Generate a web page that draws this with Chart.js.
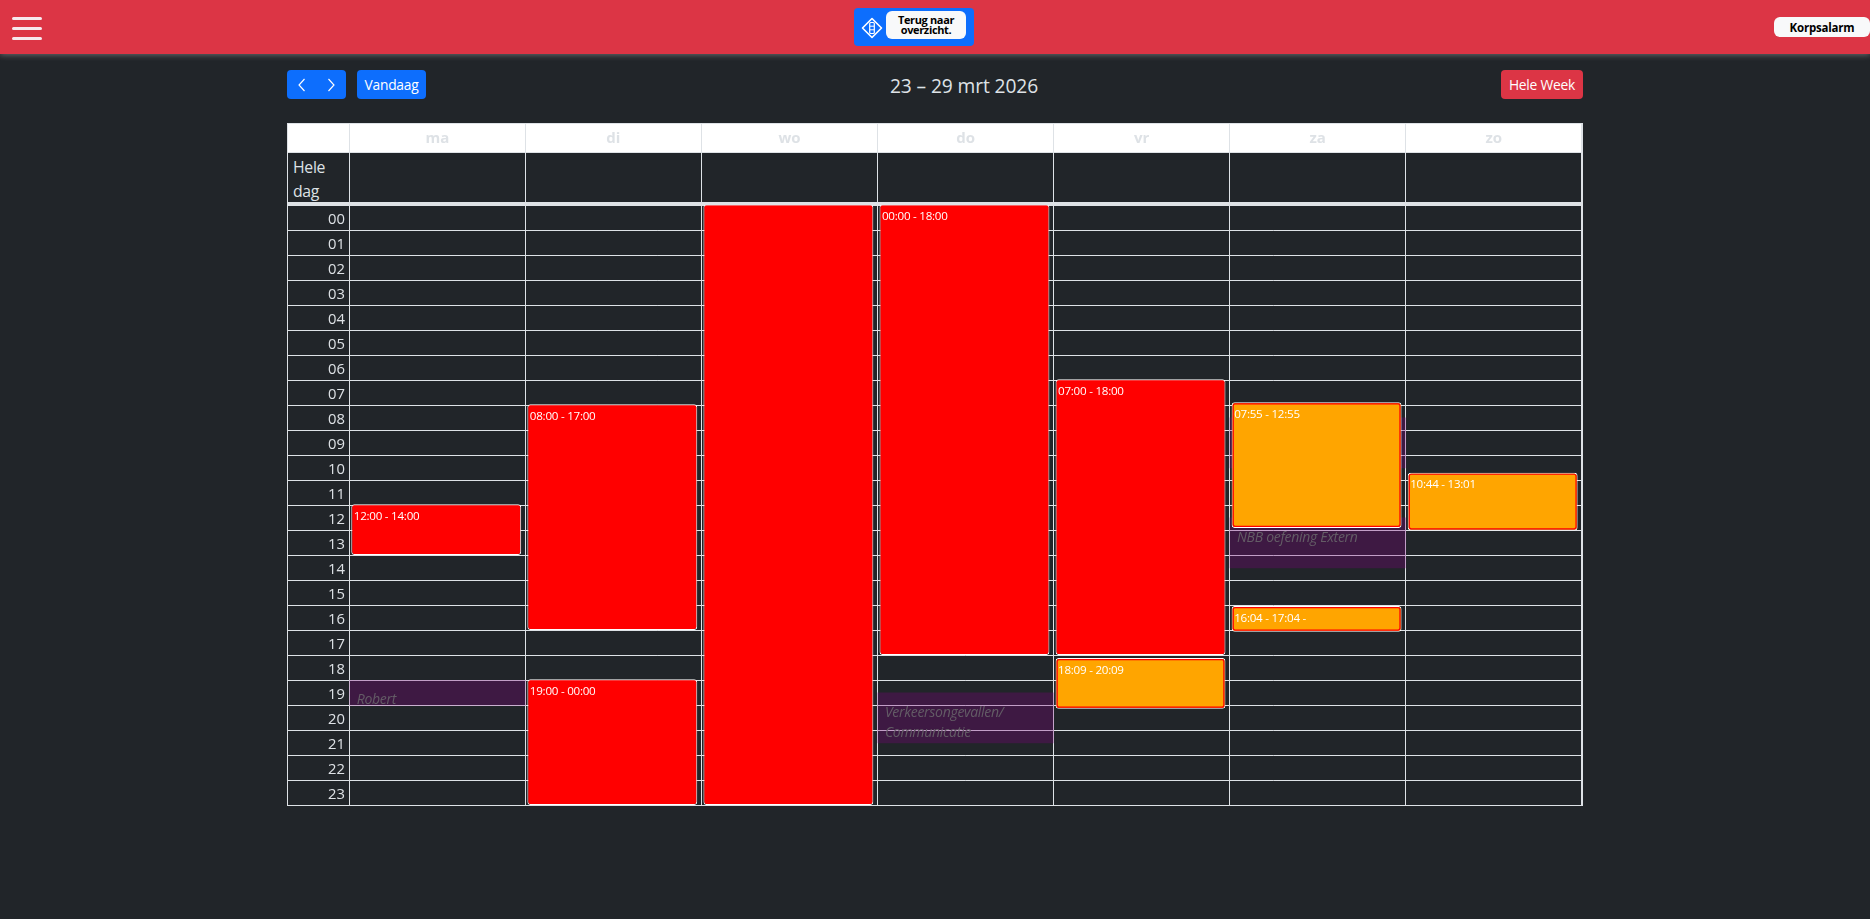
<!DOCTYPE html>
<html lang="nl"><head><meta charset="utf-8"><title>Rooster</title>
<script src="https://cdn.jsdelivr.net/npm/chart.js@4"></script>
<style>
html,body{margin:0;padding:0;width:1870px;height:919px;background:#212529;overflow:hidden;font-family:"Open Sans","Noto Sans",sans-serif;color:#dee2e6}
.abs{position:absolute;box-sizing:border-box}
#bar{left:0;top:0;width:1870px;height:54px;background:#dc3545;box-shadow:0 1px 6px rgba(255,255,255,.32)}
.burger{left:12px;width:30px;height:3px;border-radius:2px;background:#f6e9ee}
.btn{display:flex;align-items:center;justify-content:center;border-radius:4px;color:#fff;font-size:13.8px;letter-spacing:-.22px;top:70px;height:29px}
.blue{background:#0d6efd}.red{background:#dc3545}
.pill{background:#f8f9fa;color:#000;font-weight:700;display:flex;align-items:center;justify-content:center;text-align:center}
#frame{left:287px;top:123px;width:1296px;height:683px;border:1px solid #dee2e6}
#head{left:288px;top:124px;width:1294px;height:29px;background:#fff;border-bottom:1px solid #dee2e6}
#thick{left:288px;top:202px;width:1294px;height:4px;background:#dee2e6}
#allday{left:293px;top:155px;font-size:15.8px;line-height:24px;letter-spacing:-.3px}
#title{left:800px;width:328px;top:72px;text-align:center;font-size:19.2px;line-height:28px;letter-spacing:-.1px}
canvas{position:absolute;left:0;top:0}
</style></head><body>
<div class="abs" id="bar"></div>
<div class="abs burger" style="top:17px"></div><div class="abs burger" style="top:27px"></div><div class="abs burger" style="top:37px"></div>
<div class="abs blue" style="left:854px;top:8px;width:120px;height:38px;border-radius:4px"></div>
<svg class="abs" style="left:861px;top:17px" width="22" height="22" viewBox="0 0 22 22" fill="none" stroke="#fff" stroke-width="1.6"><path d="M11 1.5 20.5 11 11 20.5 1.5 11Z" stroke-linejoin="round"/><rect x="8.7" y="5.5" width="4.6" height="11" rx="1" stroke-width="1.2"/><path d="M8.7 9.2H13.3M8.7 12.8H13.3" stroke-width="1"/></svg>
<div class="abs pill" style="left:886px;top:11px;width:80px;height:28px;border-radius:6px;font-size:11px;line-height:10px;letter-spacing:-.35px">Terug naar<br>overzicht.</div>
<div class="abs pill" style="left:1774px;top:17px;width:96px;height:20px;border-radius:6px;font-size:11.5px;letter-spacing:-.2px">Korpsalarm</div>
<div class="abs btn blue" style="left:287px;width:59px">
<svg width="59" height="29" viewBox="0 0 59 29" fill="none" stroke="#fff" stroke-width="1.15"><path d="M17.5 9 12 15 17.5 21"/><path d="M41.5 9 47 15 41.5 21"/></svg></div>
<div class="abs btn blue" style="left:357px;width:69px">Vandaag</div>
<div class="abs btn red" style="left:1501px;width:82px">Hele Week</div>
<div class="abs" id="title">23 – 29 mrt 2026</div>
<div class="abs" id="frame"></div><div class="abs" id="head"></div><div class="abs" id="thick"></div>
<div class="abs" id="allday">Hele<br>dag</div>
<canvas id="c" width="1870" height="919"></canvas>
<script>
// Calendar axes
const days = ['ma','di','wo','do','vr','za','zo'];
const hourLabels = ['00','01','02','03','04','05','06','07','08','09','10','11','12','13','14','15','16','17','18','19','20','21','22','23'];

// Red shifts (hours)
const redDays   = ['ma','di','di','wo','do','vr'];
const redStart  = [12, 8, 19, 0, 0, 7];
const redEnd    = [14, 17, 24, 24, 18, 18];
const redLabels = ['12:00 - 14:00','08:00 - 17:00','19:00 - 00:00','','00:00 - 18:00','07:00 - 18:00'];

// Orange shifts (hours)
const orangeDays   = ['vr','za','za','zo'];
const orangeStart  = [18.15, 7.917, 16.067, 10.733];
const orangeEnd    = [20.15, 12.917, 17.067, 13.017];
const orangeLabels = ['18:09 - 20:09','07:55 - 12:55','16:04 - 17:04 -','10:44 - 13:01'];

// Purple background events (hours)
const bgDays   = ['ma','do','za','za'];
const bgStart  = [19, 19.5, 8.5, 12.5];
const bgEnd    = [20, 21.5, 10.5, 14.5];
const bgLabels = [['Robert'],['Verkeersongevallen/','Communicatie'],[''],['NBB oefening Extern']];

const LINE = '#dee2e6';
const FONT = '"Open Sans","Noto Sans",sans-serif';
const toPoints = (d,s,e) => d.map((x,i)=>({x, y:[s[i],e[i]]}));
const hideLast = ctx => ctx.index === days.length ? 'transparent' : LINE;

const calendarPlugin = {
  id:'calendarPlugin',
  afterDatasetsUpdate(chart){
    chart.data.datasets.forEach((ds,i)=>{
      if(!ds.eventBar) return;
      chart.getDatasetMeta(i).data.forEach(el=>{ el.x -= 1.1; el.y -= 0.3; el.base -= 1; });
    });
  },
  afterDatasetDraw(chart,args){
    const ds = chart.data.datasets[args.index], ctx = chart.ctx;
    const els = args.meta.data;
    ctx.save();
    const topOf = el => Math.min(el.y, el.base), botOf = el => Math.max(el.y, el.base);
    if(ds.innerBorder){
      ctx.strokeStyle = ds.innerBorder; ctx.lineWidth = 1.2;
      els.forEach(el=>{
        const l = el.x-el.width/2+1.6, t = topOf(el)+1.6, w = el.width-3.2, h = botOf(el)-topOf(el)-3.2;
        ctx.beginPath(); ctx.roundRect(l,t,w,h,2); ctx.stroke();
      });
    }
    if(ds.eventBar){
      ctx.fillStyle = '#fff'; ctx.font = '11.6px '+FONT; ctx.textBaseline='middle'; ctx.textAlign='left';
      ctx.letterSpacing = '-0.25px';
      els.forEach((el,i)=> ctx.fillText(ds.labels[i], el.x-el.width/2+2.5, topOf(el)+12.4));
    }
    if(ds.bgLabels){
      ctx.fillStyle = 'rgb(100,92,102)'; ctx.font = 'italic 14px '+FONT; ctx.textBaseline='middle'; ctx.textAlign='left';
      ctx.letterSpacing = '-0.3px';
      els.forEach((el,i)=> ds.bgLabels[i].forEach((t,j)=> ctx.fillText(t, el.x-el.width/2+7.4, topOf(el)+20.2+j*20.3)));
    }
    ctx.restore();
  }
};

new Chart(document.getElementById('c'),{
  type:'bar',
  data:{
    labels:days,
    datasets:[
      {label:'Oranje',data:toPoints(orangeDays,orangeStart,orangeEnd),labels:orangeLabels,eventBar:true,innerBorder:'#ff0000',
       backgroundColor:'#ffa500',borderColor:'#ffffff',borderWidth:1,borderRadius:3,borderSkipped:false,barPercentage:.965,categoryPercentage:1,grouped:false,yAxisID:'y'},
      {label:'Rood',data:toPoints(redDays,redStart,redEnd),labels:redLabels,eventBar:true,
       backgroundColor:'#ff0000',borderColor:'#ffffff',borderWidth:1,borderRadius:3,borderSkipped:false,barPercentage:.965,categoryPercentage:1,grouped:false,yAxisID:'y'},
      {label:'Achtergrond',data:toPoints(bgDays,bgStart,bgEnd),bgLabels:bgLabels,
       backgroundColor:'rgba(128,0,128,.3)',borderWidth:0,barPercentage:1,categoryPercentage:1,grouped:false,yAxisID:'y'}
    ]
  },
  options:{
    responsive:false,animation:false,devicePixelRatio:1,
    layout:{padding:{left:287,right:288.2,top:0,bottom:113.7}},
    plugins:{legend:{display:false},tooltip:{enabled:false},title:{display:false}},
    scales:{
      x:{type:'category',position:'top',offset:true,
         grid:{offset:true,color:hideLast,lineWidth:1,drawTicks:true,tickLength:81.8,tickColor:hideLast},
         border:{display:false},
         ticks:{color:LINE,font:{family:FONT,size:15,weight:'700'},padding:-24,autoSkip:false,maxRotation:0,minRotation:0},
         afterFit(s){s.height=205.3;}},
      y:{type:'linear',reverse:true,min:0,max:24,display:false},
      h:{type:'category',position:'left',labels:hourLabels,offset:true,
         grid:{offset:true,color:LINE,lineWidth:1,drawTicks:true,tickLength:62.3,tickColor:LINE},
         border:{color:LINE},
         ticks:{color:LINE,font:{family:FONT,size:14.8,lineHeight:'4.6px'},padding:-58,autoSkip:false,crossAlign:'near',
                callback:(v,i)=>['',hourLabels[i]]},
         afterFit(s){s.width=62.3;}}
    }
  },
  plugins:[calendarPlugin]
});
</script></body></html>
